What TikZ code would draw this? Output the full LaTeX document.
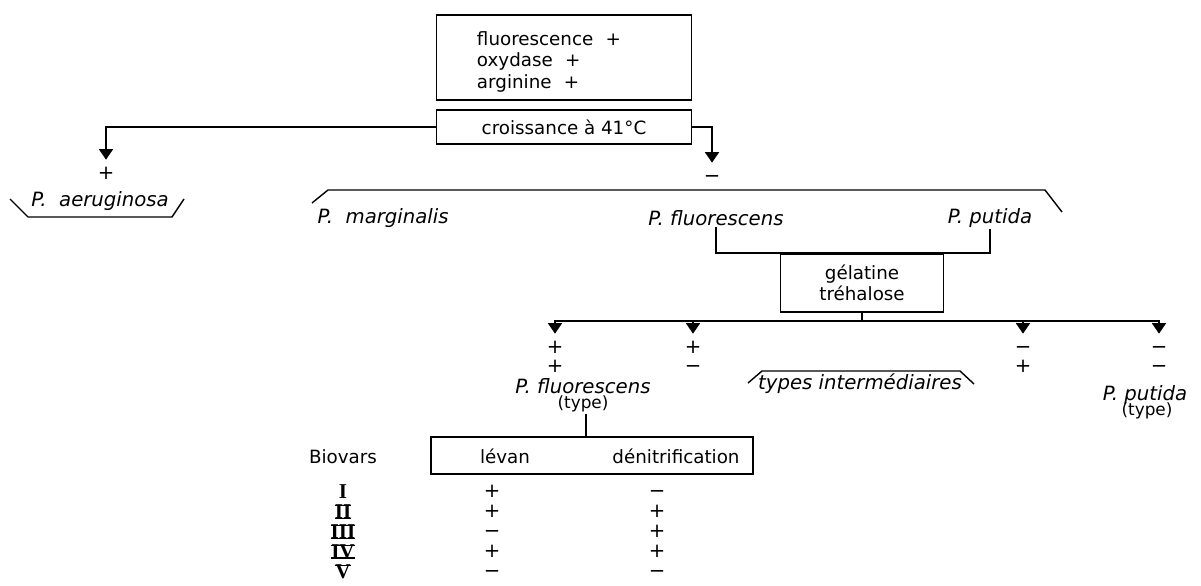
\documentclass[tikz,border=0pt]{standalone}
\usepackage{fontspec}
\setmainfont{DejaVu Sans}
\newfontfamily\numfont{Liberation Serif}
\usetikzlibrary{arrows.meta,positioning}

% chiffres romains a barres
\newcommand{\barnum}[1]{{\setbox0\hbox{#1}%
  \rlap{\rule{\wd0}{0.9pt}}\rlap{\rule[\dimexpr\ht0-0.9pt]{\wd0}{0.9pt}}\box0}}
\newcommand{\topbar}[1]{{\setbox0\hbox{#1}%
  \rlap{\rule[\dimexpr\ht0-0.9pt]{\wd0}{0.9pt}}\box0}}

\begin{document}
\begin{tikzpicture}[
  x=0.025cm, y=-0.025cm,
  font=\fontsize{13}{14.5}\selectfont,
  every node/.style={inner sep=1pt},
  testbox/.style={rectangle, draw, line width=1.1pt, inner sep=0pt},
  arr/.style={-{Triangle[width=10pt,length=7.5pt]}, line width=1.1pt, shorten >=6pt},
  link/.style={line width=1.1pt},
  species/.style={font=\fontsize{14}{14}\selectfont\itshape, align=center},
  typenote/.style={font=\fontsize{12}{12}\selectfont},
  sign/.style={font=\fontsize{14}{14}\selectfont, inner sep=0pt,
    text height=8pt, text depth=0pt},
  numeral/.style={font=\fontsize{15}{15}\selectfont\numfont\bfseries, inner sep=0pt},
  brace/.style={line width=1pt},
]
\useasboundingbox (0,0) rectangle (1201,585);

% Caracteres communs
\node[testbox, minimum width=6.375cm, minimum height=2.125cm,
      text width=4.35cm, align=left, font=\fontsize{13}{15.5}\selectfont] (crit) at (564,57.5)
  {\rule{0pt}{16pt}fluorescence~~+\\oxydase~~+\\arginine~~+};

% Croissance a 41 C
\node[testbox, minimum width=6.375cm, minimum height=0.85cm] (croiss) at (564,127)
  {croissance à 41°C};
\node[sign] (pos) at (106,174) {+};
\node[sign] (neg) at (712,177) {−};
\draw[arr] (croiss.west) -| (pos.north);
\draw[arr] (croiss.east) -| (neg.north);

% Especes
\node[species] (aeru) at (100,201) {P.\ \ aeruginosa};
\draw[brace] (10,199) -- (28,217) -- (172,217) -- (184,199);

\node[species, anchor=west] (marg) at (316,218) {P.\ \ marginalis};
\node[species] (fluo) at (716,218) {P.\ fluorescens};
\node[species] (put) at (990,218) {P.\ putida};
\draw[brace] (312,203) -- (328,190) -- (1045,190) -- (1062,212);

% Gelatine et trehalose
\node[testbox, minimum width=4.075cm, minimum height=1.45cm, align=center] (gel) at (862,283)
  {gélatine\\tréhalose};
\draw[link] (fluo.south) |- (gel.north) -| (put.south);

\coordinate (split) at (gel.south |- 0,321);
\draw[link] (gel.south) -- (split);

\foreach \n/\x/\a/\b in {pp/555/+/+, pm/693/+/−, mp/1023/−/+, mm/1159/−/−} {
  \node[sign] (\n1) at (\x,348) {\a};
  \node[sign] (\n2) at (\x,367) {\b};
  \draw[arr] (split) -| (\n1.north);
}

\node[species] (fltype) at (583,386) {P.\ fluorescens};
\node[typenote] (fltypenote) at (583,404) {(type)};
\node[species] (inter) at (860,384) {types intermédiaires};
\draw[brace] (748,383) -- (762,371) -- (960,371) -- (974,384);
\node[species] (puttype) at (1145,395) {P.\ putida};
\node[typenote] (puttypenote) at (1147,411) {(type)};

% Biovars
\node[testbox, minimum width=8.05cm, minimum height=0.925cm] (bio) at (592,455.5) {};
\draw[link] (fltypenote.south -| 586,0) -- (bio.north -| 586,0);
\node (biohead) at (343,457) {Biovars};
\node (levan) at (505,456) {lévan};
\node (denit) at (676,456) {dénitrification};

\foreach \num/\lev/\den [count=\i from 0] in
  {I/+/−, {\barnum{II}}/+/+, {\barnum{III}}/−/+, {\barnum{IV}}/+/+, {\topbar{V}}/−/−} {
  \node[numeral] (num\i) at (343,492+20*\i) {\num};
  \node[sign] (lev\i) at (492,492+20*\i) {\lev};
  \node[sign] (den\i) at (657,492+20*\i) {\den};
}
\end{tikzpicture}
\end{document}
